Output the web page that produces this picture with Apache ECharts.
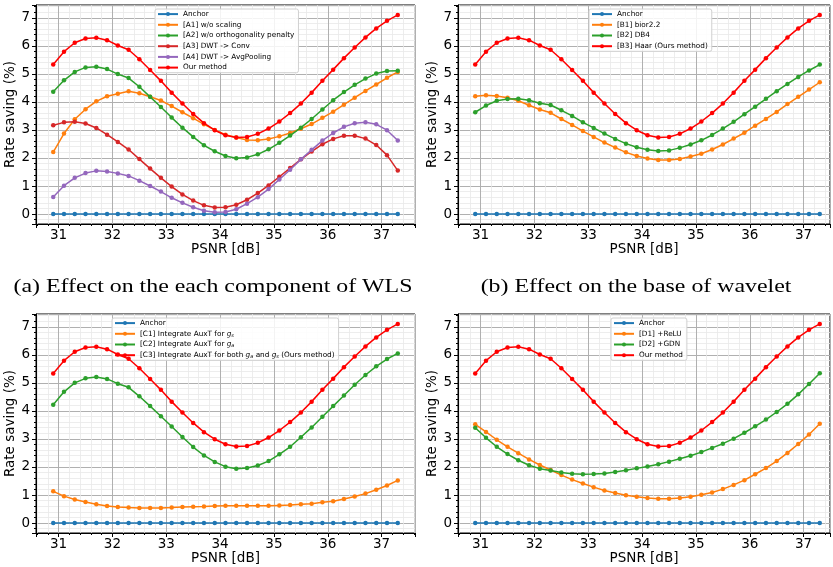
<!DOCTYPE html>
<html><head><meta charset="utf-8">
<script src="https://cdn.jsdelivr.net/npm/echarts@6/dist/echarts.min.js"></script>
<style>html,body{margin:0;padding:0;background:#fff}#c{width:833px;height:567px}</style>
</head><body><div id="c"></div>
<script>
const psnr = [30.9,31.1,31.3,31.5,31.7,31.9,32.1,32.3,32.5,32.7,32.9,33.1,33.3,33.5,33.7,33.9,34.1,34.3,34.5,34.7,34.9,35.1,35.3,35.5,35.7,35.9,36.1,36.3,36.5,36.7,36.9,37.1,37.3];
const xTicks = [31,32,33,34,35,36,37];
const yTicks = [0,1,2,3,4,5,6,7];
const anchor = [0,0,0,0,0,0,0,0,0,0,0,0,0,0,0,0,0,0,0,0,0,0,0,0,0,0,0,0,0,0,0,0,0];
const ours = [5.33,5.79,6.11,6.26,6.29,6.20,6.01,5.86,5.52,5.14,4.75,4.33,3.94,3.57,3.24,2.99,2.81,2.73,2.75,2.86,3.05,3.30,3.60,3.94,4.33,4.75,5.15,5.56,5.94,6.30,6.62,6.89,7.10];
const a1 = [2.21,2.87,3.38,3.74,4.02,4.20,4.29,4.38,4.31,4.18,4.05,3.85,3.63,3.42,3.20,3.00,2.83,2.73,2.64,2.63,2.68,2.77,2.89,3.04,3.21,3.43,3.65,3.90,4.15,4.39,4.62,4.86,5.07];
const a2 = [4.36,4.77,5.07,5.23,5.25,5.17,4.99,4.85,4.54,4.18,3.82,3.44,3.08,2.75,2.45,2.24,2.07,1.99,2.02,2.13,2.31,2.54,2.80,3.08,3.39,3.73,4.06,4.35,4.61,4.83,5.01,5.10,5.11];
const a3 = [3.17,3.27,3.29,3.23,3.07,2.83,2.57,2.30,1.96,1.62,1.29,0.98,0.70,0.48,0.31,0.23,0.24,0.33,0.51,0.75,1.02,1.33,1.64,1.95,2.23,2.49,2.68,2.79,2.79,2.69,2.46,2.10,1.55];
const a4 = [0.61,1.01,1.29,1.46,1.54,1.52,1.45,1.36,1.19,1.00,0.80,0.58,0.40,0.24,0.12,0.06,0.07,0.17,0.37,0.60,0.89,1.23,1.58,1.95,2.29,2.62,2.89,3.11,3.24,3.27,3.20,2.99,2.62];
const b1 = [4.20,4.24,4.21,4.15,4.04,3.88,3.73,3.61,3.39,3.18,2.96,2.75,2.55,2.37,2.20,2.07,1.98,1.93,1.93,1.96,2.05,2.15,2.30,2.48,2.69,2.90,3.15,3.39,3.64,3.92,4.18,4.44,4.70];
const b2 = [3.63,3.87,4.04,4.10,4.11,4.06,3.95,3.89,3.70,3.50,3.27,3.07,2.87,2.68,2.51,2.38,2.29,2.25,2.27,2.36,2.48,2.63,2.82,3.05,3.29,3.56,3.83,4.11,4.38,4.64,4.89,5.12,5.33];
const c1 = [1.13,0.96,0.84,0.75,0.67,0.61,0.57,0.55,0.54,0.54,0.54,0.55,0.57,0.58,0.59,0.61,0.62,0.62,0.62,0.62,0.62,0.63,0.64,0.67,0.69,0.74,0.78,0.86,0.95,1.05,1.19,1.34,1.52];
const c2 = [4.22,4.68,5.00,5.16,5.21,5.14,4.97,4.84,4.52,4.17,3.81,3.44,3.07,2.71,2.41,2.18,2.01,1.94,1.96,2.05,2.21,2.45,2.72,3.06,3.41,3.79,4.17,4.55,4.93,5.28,5.59,5.85,6.05];
const d1 = [3.52,3.25,2.97,2.72,2.49,2.27,2.07,1.89,1.71,1.55,1.41,1.28,1.16,1.07,0.99,0.94,0.89,0.87,0.87,0.89,0.94,1.01,1.09,1.21,1.36,1.53,1.74,1.96,2.21,2.50,2.82,3.16,3.54];
const d2 = [3.40,3.04,2.72,2.46,2.24,2.06,1.94,1.87,1.80,1.76,1.74,1.75,1.77,1.82,1.88,1.95,2.02,2.10,2.19,2.29,2.40,2.53,2.68,2.83,3.01,3.22,3.45,3.69,3.96,4.25,4.59,4.96,5.34];

const namesA = ['Anchor','[A1] w/o scaling','[A2] w/o orthogonality penalty','[A3] DWT -> Conv','[A4] DWT -> AvgPooling','Our method'];
const namesB = ['Anchor','[B1] bior2.2','[B2] DB4','[B3] Haar (Ours method)'];
const namesC = ['Anchor','[C1] Integrate AuxT for gs','[C2] Integrate AuxT for ga','[C3] Integrate AuxT for both ga and gs (Ours method)'];
const namesD = ['Anchor','[D1] +ReLU','[D2] +GDN','Our method'];
const captions = ['(a) Effect on the each component of WLS','(b) Effect on the base of wavelet'];

const BLUE='#1f77b4', ORANGE='#ff7f0e', GREEN='#2ca02c', DRED='#d62728', PURPLE='#9467bd', RED='#ff0000';
const FONT='DejaVu Sans';

const panels = [
  {grid:{left:36,top:5,width:379,height:219}, xmax:37.62, names:namesA, data:[anchor,a1,a2,a3,a4,ours], colors:[BLUE,ORANGE,GREEN,DRED,PURPLE,RED], legend:{left:155,top:9}},
  {grid:{left:458,top:5,width:374,height:219}, xmax:37.49, names:namesB, data:[anchor,b1,b2,ours], colors:[BLUE,ORANGE,GREEN,RED], legend:{left:589,top:9}},
  {grid:{left:36,top:314,width:379,height:219}, xmax:37.62, names:namesC, data:[anchor,c1,c2,ours], colors:[BLUE,ORANGE,GREEN,RED], legend:{left:112,top:318}},
  {grid:{left:458,top:314,width:374,height:219}, xmax:37.49, names:namesD, data:[anchor,d1,d2,ours], colors:[BLUE,ORANGE,GREEN,RED], legend:{left:611,top:318}}
];

const grids=[], xAxes=[], yAxes=[], series=[], legends=[];
panels.forEach((p,i)=>{
  grids.push(Object.assign({show:true,borderColor:'#000',borderWidth:1,backgroundColor:'transparent'},p.grid));
  xAxes.push({type:'value',gridIndex:i,min:30.58,max:p.xmax,minInterval:1,maxInterval:1,
    name:'PSNR [dB]',nameLocation:'middle',nameGap:18,nameTextStyle:{fontFamily:FONT,fontSize:13.5,color:'#000'},
    axisLine:{show:true,onZero:false,lineStyle:{color:'#000',width:1}},
    axisTick:{show:true,inside:false,length:4,lineStyle:{color:'#000'}},
    minorTick:{show:true,splitNumber:5,length:2,lineStyle:{color:'#000'}},
    axisLabel:{margin:4,fontFamily:FONT,fontSize:13.5,color:'#000',formatter:v=>xTicks.includes(Math.round(v*1000)/1000)?String(v):''},
    splitLine:{show:true,lineStyle:{color:'#b0b0b0',width:1}},
    minorSplitLine:{show:true,lineStyle:{color:'#e8e8e8',width:0.8}}
  });
  yAxes.push({type:'value',gridIndex:i,min:-0.355,max:7.455,minInterval:1,maxInterval:1,
    name:'Rate saving (%)',nameLocation:'middle',nameGap:17,nameTextStyle:{fontFamily:FONT,fontSize:13.5,color:'#000'},
    axisLine:{show:true,onZero:false,lineStyle:{color:'#000',width:1}},
    axisTick:{show:true,inside:false,length:4,lineStyle:{color:'#000'}},
    minorTick:{show:true,splitNumber:5,length:2,lineStyle:{color:'#000'}},
    axisLabel:{margin:6,fontFamily:FONT,fontSize:13.5,color:'#000',formatter:v=>yTicks.includes(Math.round(v*1000)/1000)?String(v):''},
    splitLine:{show:true,lineStyle:{color:'#b0b0b0',width:1}},
    minorSplitLine:{show:true,lineStyle:{color:'#e8e8e8',width:0.8}}
  });
  p.names.forEach((n,k)=>{
    series.push({type:'line',name:n,xAxisIndex:i,yAxisIndex:i,
      data:psnr.map((x,j)=>[x,p.data[k][j]]),
      symbol:'circle',symbolSize:4.5,showSymbol:true,
      lineStyle:{color:p.colors[k],width:1.5},itemStyle:{color:p.colors[k]},
      emphasis:{disabled:true},animation:false,z:2+k});
  });
  legends.push({orient:'vertical',left:p.legend.left,top:p.legend.top,data:p.names.map(n=>({name:n})),
    backgroundColor:'rgba(255,255,255,0.85)',borderColor:'#d0d0d0',borderWidth:1,borderRadius:2,
    padding:[1,4,1,2],itemGap:2.5,itemWidth:20,itemHeight:5,selectedMode:false,
    textStyle:{fontFamily:FONT,fontSize:7.3,color:'#000',lineHeight:8.2,
      rich:{i:{fontFamily:FONT,fontStyle:'italic',fontSize:7.3,lineHeight:8.2},
            s:{fontFamily:FONT,fontStyle:'italic',fontSize:5,lineHeight:8.2,verticalAlign:'bottom'}}},
    formatter:function(name){
      return name.replace(/ g([as])/g,' {i|g}{s|$1}');
    }
  });
});

const graphic = [
  {type:'text',x:213,y:287,scaleX:1.255,style:{text:captions[0],font:'19px "Liberation Serif"',fill:'#000',align:'center',verticalAlign:'middle'}},
  {type:'text',x:636,y:287,scaleX:1.255,style:{text:captions[1],font:'19px "Liberation Serif"',fill:'#000',align:'center',verticalAlign:'middle'}}
];

const chart = echarts.init(document.getElementById('c'),null,{renderer:'canvas'});
chart.setOption({animation:false,backgroundColor:'#fff',grid:grids,xAxis:xAxes,yAxis:yAxes,series:series,legend:legends,graphic:graphic});
</script></body></html>
